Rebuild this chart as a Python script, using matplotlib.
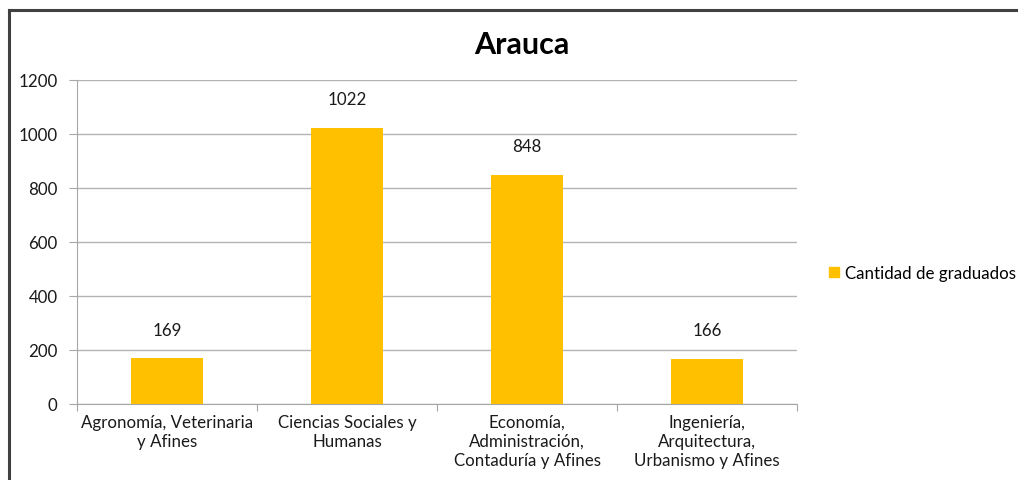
import matplotlib
matplotlib.use("Agg")
import matplotlib.pyplot as plt
from matplotlib.patches import Rectangle
from matplotlib.lines import Line2D

categories = ["Agronomía, Veterinaria\ny Afines",
              "Ciencias Sociales y\nHumanas",
              "Economía,\nAdministración,\nContaduría y Afines",
              "Ingeniería,\nArquitectura,\nUrbanismo y Afines"]
values = [169, 1022, 848, 166]
yticks = [0, 200, 400, 600, 800, 1000, 1200]
series_name = "Cantidad de graduados"
title = "Arauca"

plt.rcParams['font.family'] = ['Lato', 'DejaVu Sans']
W, H = 1018, 481
fig = plt.figure(figsize=(W/100, H/100), dpi=100)
ax = fig.add_axes([77/W, 1-405/H, 720/W, 324/H])

FS = 12.2
bar_color = "#FFC000"
x = list(range(len(values)))
ax.bar(x, values, width=0.4, color=bar_color, zorder=3, label=series_name)
for xi, v in zip(x, values):
    ax.annotate(str(v), (xi, v), xytext=(0, 15), textcoords="offset points",
                ha="center", va="bottom", fontsize=FS, color="#1a1a1a")

ax.set_xlim(-0.5, len(values)-0.5)
ax.set_ylim(0, 1200)
ax.set_yticks(yticks)
ax.set_yticklabels([str(t) for t in yticks], fontsize=FS, color="#1a1a1a")
ax.yaxis.grid(True, color="#b3b3b3", linewidth=1, zorder=0)
ax.tick_params(axis="y", length=6, color="#a6a6a6", pad=8)

# category ticks at boundaries
ax.set_xticks([i + 0.5 for i in range(-1, len(values))], minor=False)
ax.set_xticklabels([""] * (len(values)+1))
ax.tick_params(axis="x", length=5, color="#a6a6a6")
ax.set_xticks(x, minor=True)
ax.set_xticklabels(categories, minor=True, fontsize=FS, color="#1a1a1a",
                   linespacing=1.25)
ax.tick_params(axis="x", which="minor", length=0, pad=7)

for s in ["top", "right"]:
    ax.spines[s].set_visible(False)
for s in ["left", "bottom"]:
    ax.spines[s].set_color("#a6a6a6")

fig.text(522/W, 1-45/H, title, ha="center", va="center", fontsize=22,
         fontweight="bold", color="#000000")

handle = Rectangle((0, 0), 1, 1, color=bar_color)
fig.legend([handle], [series_name], loc="center left",
           bbox_to_anchor=(814/W, 1-274/H), frameon=False, fontsize=FS,
           handlelength=0.55, handleheight=0.55, handletextpad=0.4)

# outer frame (top and left visible)
fig.add_artist(Line2D([9/W, 1.0], [1-11/H, 1-11/H], transform=fig.transFigure,
                      color="#404040", linewidth=2.2))
fig.add_artist(Line2D([9/W, 9/W], [0, 1-11/H], transform=fig.transFigure,
                      color="#404040", linewidth=2.2))

fig.savefig("out.png", dpi=100)
